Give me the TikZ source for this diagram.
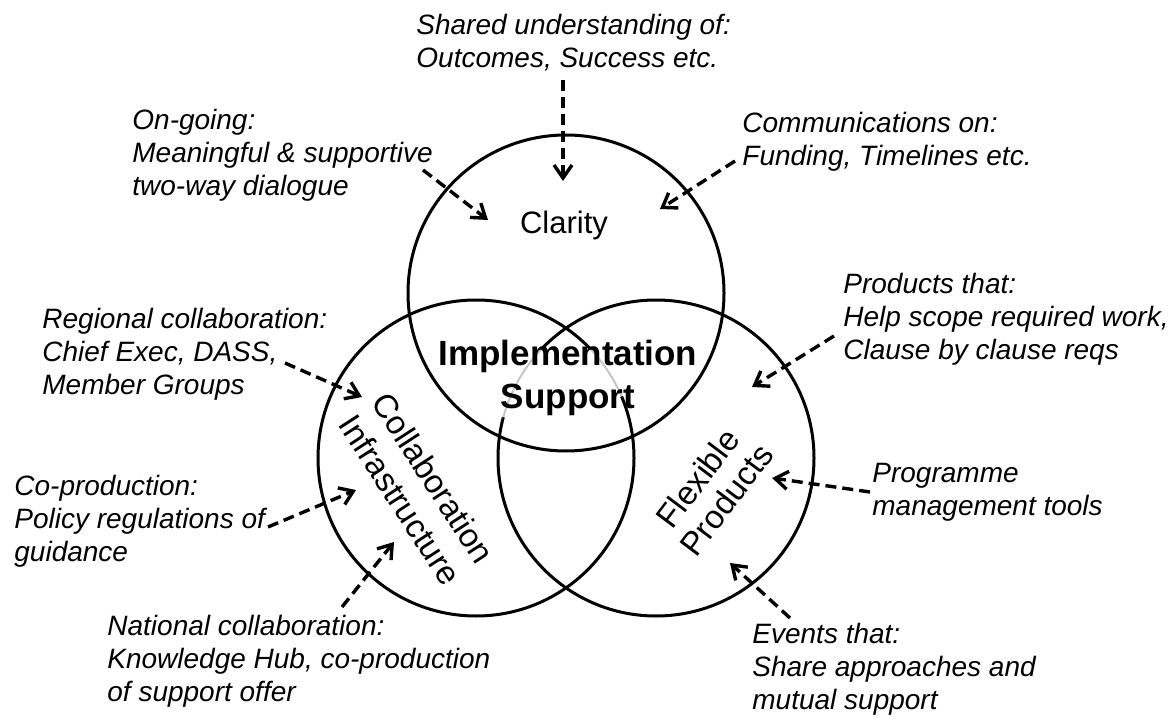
\documentclass[tikz,border=0pt]{standalone}
\usepackage{fontspec}
\setmainfont{Liberation Sans}
\usetikzlibrary{arrows.meta}
\begin{document}
\begin{tikzpicture}[x=0.5pt,y=-0.5pt,
  ring/.style={line width=1.5pt},
  faint/.style={gray!45, line width=1pt},
  lbl/.style={font=\fontsize{14}{16.5}\selectfont\itshape, align=left, anchor=west, inner sep=0pt},
  area/.style={align=center, inner sep=0pt},
  cue/.style={line width=1.7pt, dash pattern=on 5.5pt off 3pt,
              -{Straight Barb[length=6.5pt,width=9pt]}}]
\fill[white] (0,0) rectangle (1173,717);
\useasboundingbox (0,0) rectangle (1173,717);

% the three overlapping rings
\coordinate (ctop) at (566,293);
\coordinate (cleft) at (476,458);
\coordinate (cright) at (656,458);
\draw[ring] (ctop) circle[radius=158];
\draw[ring] (cleft) circle[radius=158];
\draw[ring] (cright) circle[radius=158];

% lighter arc pieces behind the central title
\draw[white, line width=2.6pt] (cleft) ++(-44:158) arc[start angle=-44, end angle=-23, radius=158];
\draw[faint] (cleft) ++(-44:158) arc[start angle=-44, end angle=-23, radius=158];
\draw[white, line width=2.6pt] (cright) ++(-136:158) arc[start angle=-136, end angle=-165, radius=158];
\draw[faint] (cright) ++(-136:158) arc[start angle=-136, end angle=-165, radius=158];

% ring titles
\node[area, font=\fontsize{15.5}{18}\selectfont] (clarity) at (564,225) {Clarity};
\node[area, font=\bfseries\fontsize{17.5}{21.5}\selectfont] (core) at (568,378) {Implementation\\Support};
\node[area, rotate=-57, font=\fontsize{16.5}{20}\selectfont] (collab) at (417,489) {Collaboration\\Infrastructure};
\node[area, rotate=53, font=\fontsize{16.5}{18}\selectfont] (flex) at (712,489) {Flexible\\Products};

% annotations
\node[lbl] (shared) at (416,43) {Shared understanding of:\\Outcomes, Success etc.};
\node[lbl] (ongoing) at (132,155) {On-going:\\Meaningful \& supportive\\two-way dialogue};
\node[lbl] (comms) at (742,142) {Communications on:\\Funding, Timelines etc.};
\node[lbl] (products) at (843,319) {Products that:\\Help scope required work,\\Clause by clause reqs};
\node[lbl] (regional) at (42,354) {Regional collaboration:\\Chief Exec, DASS,\\Member Groups};
\node[lbl] (coprod) at (14,521) {Co-production:\\Policy regulations of\\guidance};
\node[lbl] (national) at (107,661) {National collaboration:\\Knowledge Hub, co-production\\of support offer};
\node[lbl] (programme) at (872,492) {Programme\\management tools};
\node[lbl] (events) at (752,669) {Events that:\\Share approaches and\\mutual support};

% arrow end points
\coordinate (sharedFrom) at (563,80);     \coordinate (sharedTo) at (563,181);
\coordinate (ongoingFrom) at (423,170);   \coordinate (ongoingTo) at (488,220);
\coordinate (commsFrom) at (735,161);     \coordinate (commsTo) at (660,209);
\coordinate (productsFrom) at (834,336);  \coordinate (productsTo) at (752,387);
\coordinate (regionalFrom) at (285,363);  \coordinate (regionalTo) at (362,397);
\coordinate (coprodFrom) at (268,527);    \coordinate (coprodTo) at (356,490);
\coordinate (nationalFrom) at (342,607);  \coordinate (nationalTo) at (394,542);
\coordinate (programmeFrom) at (870,492); \coordinate (programmeTo) at (772,478);
\coordinate (eventsFrom) at (790,618);    \coordinate (eventsTo) at (730,563);

\draw[cue] (sharedFrom) -- (sharedTo);
\draw[cue] (ongoingFrom) -- (ongoingTo);
\draw[cue] (commsFrom) -- (commsTo);
\draw[cue] (productsFrom) -- (productsTo);
\draw[cue] (regionalFrom) -- (regionalTo);
\draw[cue] (coprodFrom) -- (coprodTo);
\draw[cue] (nationalFrom) -- (nationalTo);
\draw[cue] (programmeFrom) -- (programmeTo);
\draw[cue] (eventsFrom) -- (eventsTo);
\end{tikzpicture}
\end{document}
